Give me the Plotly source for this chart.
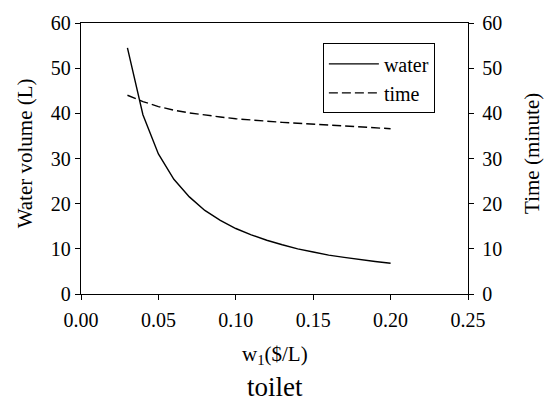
import plotly.graph_objects as go

w1 = [0.03, 0.04, 0.05, 0.06, 0.07, 0.08, 0.09, 0.10, 0.11, 0.12,
      0.13, 0.14, 0.15, 0.16, 0.17, 0.18, 0.19, 0.20]
water = [54.5, 39.7, 31.0, 25.4, 21.5, 18.5, 16.3, 14.5, 13.1, 11.9,
         10.9, 10.0, 9.3, 8.6, 8.1, 7.6, 7.2, 6.8]
time_min = [44.0, 42.6, 41.5, 40.7, 40.1, 39.6, 39.2, 38.8, 38.5, 38.2,
            38.0, 37.8, 37.6, 37.4, 37.2, 37.0, 36.8, 36.6]

x_ticks = [0.00, 0.05, 0.10, 0.15, 0.20, 0.25]
x_tick_labels = ["0.00", "0.05", "0.10", "0.15", "0.20", "0.25"]
y_ticks = [0, 10, 20, 30, 40, 50, 60]

FONT = "Liberation Serif"

fig = go.Figure()
fig.add_trace(go.Scatter(x=w1, y=water, mode="lines", name="water",
                         line=dict(color="black", width=1.4)))
fig.add_trace(go.Scatter(x=w1, y=time_min, mode="lines", name="time", yaxis="y2",
                         line=dict(color="black", width=1.4, dash="9px,4px")))

axis_common = dict(showgrid=False, zeroline=False, showline=True, linecolor="black",
                   linewidth=1.4, ticks="outside", ticklen=5, tickcolor="black",
                   tickwidth=1.2,
                   tickfont=dict(family=FONT, size=20, color="black"))

fig.update_layout(
    width=544, height=409,
    margin=dict(l=81, r=76, t=15, b=115),
    paper_bgcolor="white", plot_bgcolor="white",
    font=dict(family=FONT, color="black"),
    showlegend=True,
    legend=dict(x=0.625, y=0.925, xanchor="left", yanchor="top",
                bordercolor="black", borderwidth=1, bgcolor="white",
                font=dict(family=FONT, size=20, color="black"),
                itemwidth=50, tracegroupgap=0),
    xaxis=dict(range=[0, 0.25], tickvals=x_ticks, ticktext=x_tick_labels,
               mirror=True, ticklabelstandoff=3, **axis_common),
    yaxis=dict(range=[0, 60], tickvals=y_ticks, **axis_common),
    yaxis2=dict(range=[0, 60], tickvals=y_ticks, overlaying="y", side="right",
                ticklabelstandoff=4, **axis_common),
    annotations=[
        dict(text="Water volume (L)", xref="paper", yref="paper", x=-0.144, y=0.52,
             textangle=-90, showarrow=False, xanchor="center", yanchor="middle",
             font=dict(family=FONT, size=21, color="black")),
        dict(text="Time (minute)", xref="paper", yref="paper", x=1.165, y=0.52,
             textangle=-90, showarrow=False, xanchor="center", yanchor="middle",
             font=dict(family=FONT, size=21, color="black")),
        dict(text="w<sub>1</sub>($/L)", xref="paper", yref="paper", x=0.5, y=-0.225,
             showarrow=False, xanchor="center", yanchor="middle",
             font=dict(family=FONT, size=21, color="black")),
        dict(text="toilet", xref="paper", yref="paper", x=0.5, y=-0.345,
             showarrow=False, xanchor="center", yanchor="middle",
             font=dict(family=FONT, size=27, color="black")),
    ],
)

fig.write_html("out.html")
